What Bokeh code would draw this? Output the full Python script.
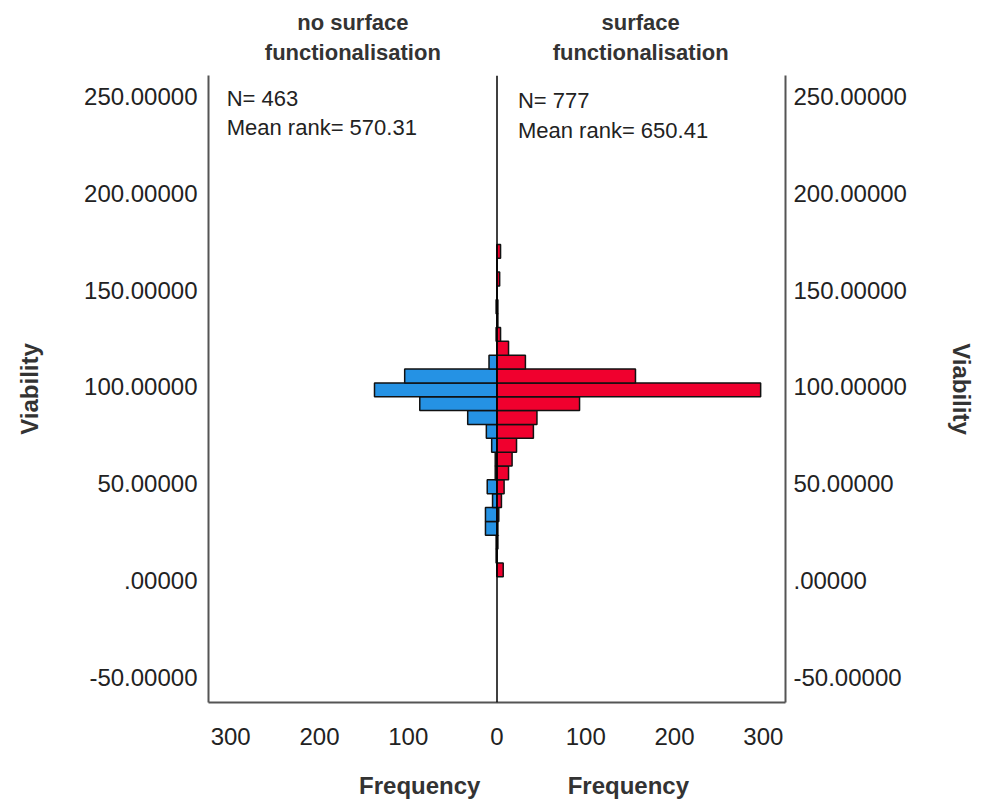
from bokeh.plotting import figure
from bokeh.models import Range1d, LinearAxis, FixedTicker, Label, Span, ColumnDataSource
from bokeh.embed import file_html
from bokeh.resources import INLINE

# ---- data ----
bin_start = [2.0, 9.15, 16.3, 23.45, 30.6, 37.75, 44.9, 52.05, 59.2, 66.35, 73.5, 80.65,
             87.8, 94.95, 102.1, 109.25, 116.4, 123.55, 130.7, 137.85, 145.0, 152.15, 159.3, 166.45]
bin_width = 7.15
freq_no_surface = [0, 1, 1, 13, 13, 5, 11, 2, 2, 6, 12, 33, 87, 138, 104, 9, 0, 1, 0, 1, 0, 0, 0, 0]
freq_surface = [7, 0, 1, 1, 2, 5, 8, 13, 17, 22, 41, 45, 93, 297, 156, 32, 13, 4, 1, 1, 0, 3, 0, 4]
group_names = ["no surface\nfunctionalisation", "surface\nfunctionalisation"]
group_pos = [-162.4, 161.8]
stats_left = ["N= 463", "Mean rank= 570.31"]
stats_right = ["N= 777", "Mean rank= 650.41"]
y_ticks = [-50, 0, 50, 100, 150, 200, 250]
y_tick_labels = ["-50.00000", ".00000", "50.00000", "100.00000", "150.00000", "200.00000", "250.00000"]
x_ticks = [-300, -200, -100, 0, 100, 200, 300]
x_tick_labels = ["300", "200", "100", "0", "100", "200", "300"]
freq_pos = [-87, 148]

FONT = "Liberation Sans"
TXT = "#222222"
BLUE = "#2592e4"
RED = "#f0002e"

bottoms = bin_start
tops = [b + bin_width for b in bin_start]

src_l = ColumnDataSource(dict(bottom=bottoms, top=tops, right=[0] * len(bottoms),
                              left=[-v for v in freq_no_surface]))
src_r = ColumnDataSource(dict(bottom=bottoms, top=tops, left=[0] * len(bottoms),
                              right=freq_surface))

p = figure(width=981, height=801, output_backend="svg", toolbar_location=None,
           x_range=Range1d(-325, 325), y_range=Range1d(-62.9, 260.8),
           min_border_left=208, min_border_right=196, min_border_top=75, min_border_bottom=98,
           x_axis_location="below", y_axis_location="left")
p.outline_line_color = None
p.grid.visible = False
p.background_fill_color = "white"
p.border_fill_color = "white"

p.quad(left="left", right="right", bottom="bottom", top="top", source=src_l,
       fill_color=BLUE, line_color="#111111", line_width=1.5)
p.quad(left="left", right="right", bottom="bottom", top="top", source=src_r,
       fill_color=RED, line_color="#111111", line_width=1.5)

p.add_layout(Span(location=0, dimension="height", line_color="black", line_width=1.5))


def no_ticks(ax):
    ax.major_tick_out = 0
    ax.major_tick_in = 0
    ax.minor_tick_out = 0
    ax.minor_tick_in = 0


# y axes
right_axis = LinearAxis()
p.add_layout(right_axis, "right")
for ax, standoff in ((p.yaxis[0], 11), (right_axis, 8)):
    ax.ticker = FixedTicker(ticks=y_ticks)
    ax.major_label_overrides = {t: l for t, l in zip(y_ticks, y_tick_labels)}
    no_ticks(ax)
    ax.major_label_standoff = standoff
    ax.major_label_text_font = FONT
    ax.major_label_text_font_size = "24px"
    ax.major_label_text_color = TXT
    ax.axis_line_color = "#555555"
    ax.axis_line_width = 2
    ax.axis_label = "Viability"
    ax.axis_label_text_font = FONT
    ax.axis_label_text_font_style = "bold"
    ax.axis_label_text_font_size = "24px"
    ax.axis_label_text_color = "#333333"
    ax.axis_label_standoff = 38

xa = p.xaxis[0]
xa.ticker = FixedTicker(ticks=x_ticks)
xa.major_label_overrides = {t: l for t, l in zip(x_ticks, x_tick_labels)}
no_ticks(xa)
xa.major_label_standoff = 25
xa.major_label_text_font = FONT
xa.major_label_text_font_size = "24px"
xa.major_label_text_color = TXT
xa.axis_line_color = "#555555"
xa.axis_line_width = 2

# "Frequency" labels: a second, bare axis below
fa = LinearAxis(ticker=FixedTicker(ticks=freq_pos),
                major_label_overrides={t: "Frequency" for t in freq_pos})
no_ticks(fa)
fa.axis_line_color = None
fa.major_label_standoff = 24
fa.major_label_text_font = FONT
fa.major_label_text_font_style = "bold"
fa.major_label_text_font_size = "24px"
fa.major_label_text_color = "#333333"
p.add_layout(fa, "below")

# group titles: a bare axis above
ta = LinearAxis(ticker=FixedTicker(ticks=group_pos),
                major_label_overrides={t: n for t, n in zip(group_pos, group_names)})
no_ticks(ta)
ta.axis_line_color = None
ta.major_label_standoff = 11
ta.major_label_text_font = FONT
ta.major_label_text_font_style = "bold"
ta.major_label_text_font_size = "22px"
ta.major_label_text_color = "#333333"
ta.major_label_text_align = "center"
p.add_layout(ta, "above")

# statistics
for x, y, t in ((-304.5, 249.0, stats_left[0]), (-304.5, 234.0, stats_left[1]),
                (23.6, 247.9, stats_right[0]), (23.6, 232.4, stats_right[1])):
    p.add_layout(Label(x=x, y=y, text=t, text_align="left", text_baseline="middle",
                       text_font=FONT, text_font_size="22px", text_color=TXT))

open("out.html", "w").write(file_html(p, INLINE))
